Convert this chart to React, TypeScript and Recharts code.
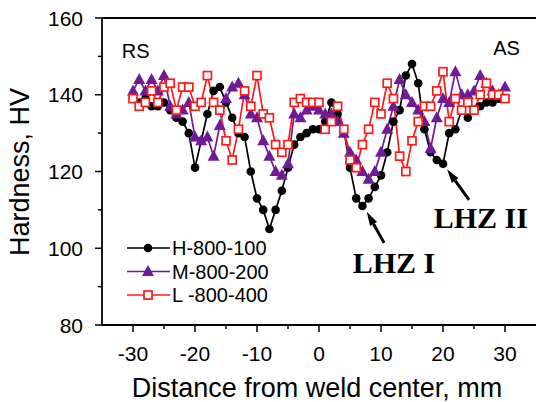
import { LineChart, Line, XAxis, YAxis, ReferenceDot, ReferenceLine } from 'recharts';

document.body.style.margin = '0';

const SANS = '"Liberation Sans", Arial, sans-serif';
const SERIF = '"Liberation Serif", "Times New Roman", serif';

// distance from weld center (mm)
const distance = [
    -30, -29, -28, -27, -26, -25, -24, -23, -22, -21, -20, -19, -18, -17, -16, -15, -14, -13, -12, -11,
    -10, -9, -8, -7, -6, -5, -4, -3, -2, -1, 0, 1, 2, 3, 4, 5, 6, 7, 8, 9,
    10, 11, 12, 13, 14, 15, 16, 17, 18, 19, 20, 21, 22, 23, 24, 25, 26, 27, 28, 29, 30,
];

const h800100 = [
    140, 138, 139, 137, 137, 138, 136, 134, 133, 130, 121, 128, 135, 141, 142, 138, 134, 130, 129, 120,
    113, 110, 105, 110, 115, 121, 127, 129, 130, 131, 131, 133, 138, 135, 131, 121, 113, 111, 113, 116,
    119, 125, 133, 136, 145, 148, 143, 131, 125, 123, 122, 130, 131, 136, 134, 136, 137, 138, 138, 139, 139,
];

const m800200 = [
    141, 144, 141, 144, 141, 145, 137, 135, 136, 138, 129, 128, 129, 124, 132, 139, 142, 143, 140, 135,
    134, 128, 124, 120, 119, 122, 135, 134, 136, 137, 136, 135, 135, 133, 130, 125, 123, 120, 118, 120,
    125, 131, 137, 144, 140, 138, 136, 133, 126, 134, 139, 138, 146, 140, 140, 141, 145, 143, 141, 140, 142,
];

const l800400 = [
    139, 137, 138, 141, 138, 142, 143, 136, 142, 142, 137, 138, 145, 138, 136, 128, 123, 131, 141, 137,
    145, 135, 134, 127, 125, 127, 138, 139, 138, 138, 138, 131, 133, 137, 131, 123, 121, 127, 131, 138,
    135, 143, 139, 124, 120, 128, 133, 137, 137, 141, 146, 133, 139, 136, 138, 136, 140, 143, 140, 140, 139,
];

const xTicks = [-30, -25, -20, -15, -10, -5, 0, 5, 10, 15, 20, 25, 30];
const yTicks = [80, 90, 100, 110, 120, 130, 140, 150, 160];

const PURPLE = '#711a98';
const RED = '#ff1a1a';

const rows = distance.map((x, i) => ({
    x,
    h: h800100[i],
    m: m800200[i],
    l: l800400[i],
}));

const Triangle = ({ cx, cy, fill }: any) => {
    if (cx == null || cy == null) return null;
    return <polygon points={`${cx},${cy - 6.5} ${cx + 6},${cy + 4.5} ${cx - 6},${cy + 4.5}`} fill={fill} />;
};

const Square = ({ cx, cy }: any) => {
    if (cx == null || cy == null) return null;
    return <rect x={cx - 4} y={cy - 4} width={8} height={8} fill="#fff" stroke={RED} strokeWidth={1.7} />;
};

const XTick = ({ x, y, payload }: any) => {
    const major = payload.value % 10 === 0;
    return (
        <g>
            <line x1={x} y1={y} x2={x} y2={y + (major ? 7 : 4)} stroke="#000" strokeWidth={1.5} />
            {major && (
                <text x={x} y={y + 36} textAnchor="middle" fontSize={21} fontFamily={SANS} fill="#000">
                    {payload.value}
                </text>
            )}
        </g>
    );
};

const YTick = ({ x, y, payload }: any) => {
    const major = payload.value % 20 === 0;
    return (
        <g>
            <line x1={x} y1={y} x2={x - (major ? 7 : 4)} y2={y} stroke="#000" strokeWidth={1.5} />
            {major && (
                <text x={x - 19} y={y + 7.5} textAnchor="end" fontSize={21} fontFamily={SANS} fill="#000">
                    {payload.value}
                </text>
            )}
        </g>
    );
};

const Arrow = ({ x1, y1, x2, y2 }: any) => {
    // x2,y2 is the tip
    const dx = x2 - x1;
    const dy = y2 - y1;
    const len = Math.sqrt(dx * dx + dy * dy);
    const ux = dx / len;
    const uy = dy / len;
    const bx = x2 - ux * 14;
    const by = y2 - uy * 14;
    return (
        <g>
            <line x1={x1} y1={y1} x2={bx} y2={by} stroke="#000" strokeWidth={3} />
            <polygon
                points={`${x2},${y2} ${bx - uy * 4},${by + ux * 4} ${bx + uy * 4},${by - ux * 4}`}
                fill="#000"
            />
        </g>
    );
};

const textShape = (value: string, size: number, family: string, anchor: string, weight = 'normal') =>
    ({ cx, cy }: any) => (
        <text x={cx} y={cy} fontSize={size} fontFamily={family} fontWeight={weight} textAnchor={anchor} fill="#000">
            {value}
        </text>
    );

const legendItems = [
    { name: 'H-800-100', color: '#000', kind: 'circle' },
    { name: 'M-800-200', color: PURPLE, kind: 'triangle' },
    { name: 'L -800-400', color: RED, kind: 'square' },
];

const LegendBox = () => (
    <svg width={170} height={72} style={{ position: 'absolute', left: 120, top: 238 }}>
        {legendItems.map((it, i) => {
            const cy = 10 + i * 23.5;
            return (
                <g key={it.name}>
                    <line x1={7} y1={cy} x2={50} y2={cy} stroke={it.color} strokeWidth={1.7} />
                    {it.kind === 'circle' && <circle cx={28} cy={cy} r={4.3} fill="#000" />}
                    {it.kind === 'triangle' && <Triangle cx={28} cy={cy} fill={PURPLE} />}
                    {it.kind === 'square' && <Square cx={28} cy={cy} />}
                    <text x={52} y={cy + 7} fontSize={20} fontFamily={SANS} fill="#000">
                        {it.name}
                    </text>
                </g>
            );
        })}
    </svg>
);

export default function App() {
    return (
        <div style={{ position: 'relative', width: 536, height: 402, overflow: 'hidden', background: '#fff' }}>
            <LineChart width={536} height={402} data={rows} margin={{ top: 18, right: 0, bottom: 0, left: 0 }}>
                <XAxis
                    dataKey="x"
                    type="number"
                    domain={[-35, 35]}
                    ticks={xTicks}
                    interval={0}
                    height={77}
                    tickSize={0}
                    tickMargin={0}
                    tickLine={false}
                    tick={<XTick />}
                    axisLine={{ stroke: '#000', strokeWidth: 1.8 }}
                    label={() => (
                        <text x={317} y={397} textAnchor="middle" fontSize={27} fontFamily={SANS} fill="#000">
                            Distance from weld center, mm
                        </text>
                    )}
                />
                <YAxis
                    type="number"
                    domain={[80, 160]}
                    ticks={yTicks}
                    interval={0}
                    width={102}
                    tickSize={0}
                    tickMargin={0}
                    tickLine={false}
                    tick={<YTick />}
                    axisLine={{ stroke: '#000', strokeWidth: 1.8 }}
                    label={() => (
                        <text
                            x={29}
                            y={172}
                            transform="rotate(-90 29 172)"
                            textAnchor="middle"
                            fontSize={27}
                            fontFamily={SANS}
                            fill="#000"
                        >
                            Hardness, HV
                        </text>
                    )}
                />
                <ReferenceLine y={160} stroke="#000" strokeWidth={1.8} />
                <Line
                    dataKey="h"
                    type="linear"
                    stroke="#000"
                    strokeWidth={1.7}
                    dot={{ r: 4.3, fill: '#000', stroke: '#000', strokeWidth: 0 }}
                    isAnimationActive={false}
                />
                <Line
                    dataKey="m"
                    type="linear"
                    stroke={PURPLE}
                    strokeWidth={1.7}
                    dot={(p: any) => <Triangle key={p.index} cx={p.cx} cy={p.cy} fill={PURPLE} />}
                    isAnimationActive={false}
                />
                <Line
                    dataKey="l"
                    type="linear"
                    stroke={RED}
                    strokeWidth={1.7}
                    dot={(p: any) => <Square key={p.index} cx={p.cx} cy={p.cy} />}
                    isAnimationActive={false}
                />
                <ReferenceDot x={-31.8} y={149.6} r={0} shape={textShape('RS', 20, SANS, 'start')} />
                <ReferenceDot x={28.1} y={150.4} r={0} shape={textShape('AS', 20, SANS, 'start')} />
                <ReferenceLine
                    segment={[{ x: 10.5, y: 101.4 }, { x: 7.7, y: 109.5 }]}
                    shape={<Arrow />}
                />
                <ReferenceLine
                    segment={[{ x: 24.2, y: 112.6 }, { x: 20.65, y: 120.6 }]}
                    shape={<Arrow />}
                />
                <ReferenceDot x={12.1} y={93.5} r={0} shape={textShape('LHZ I', 30, SERIF, 'middle', 'bold')} />
                <ReferenceDot x={18.5} y={105.3} r={0} shape={textShape('LHZ II', 30, SERIF, 'start', 'bold')} />
            </LineChart>
            <LegendBox />
        </div>
    );
}
